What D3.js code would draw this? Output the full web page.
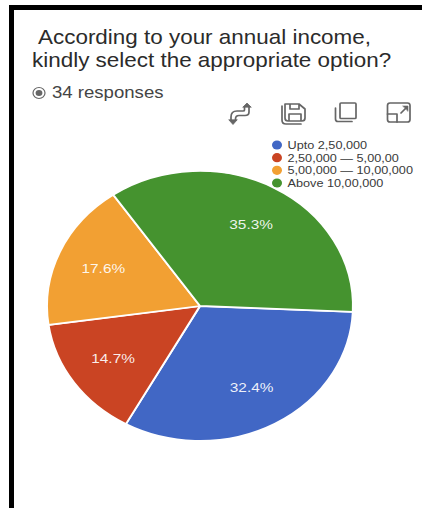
<!DOCTYPE html>
<html>
<head>
<meta charset="utf-8">
<script src="https://cdn.jsdelivr.net/npm/d3@7"></script>
<style>
html,body{margin:0;padding:0;background:#fff;}
svg{display:block;}
text{font-family:"Liberation Sans",Arial,sans-serif;}
</style>
</head>
<body>
<svg id="chart" width="422" height="508"></svg>
<script>
const categories = ["Upto 2,50,000", "2,50,000 — 5,00,00", "5,00,000 — 10,00,000", "Above 10,00,000"];
const responses = [11, 5, 6, 12];
const sliceLabels = ["32.4%", "14.7%", "17.6%", "35.3%"];
const palette = ["#4167c5", "#ca4423", "#f2a033", "#45932f"];
const titleLines = ["According to your annual income,", "kindly select the appropriate option?"];
const responseNote = "34 responses";

const svg = d3.select("#chart");
const ink = "#2b2b2b", iconInk = "#666";

// The whole layout is wider than it is tall by this factor, text included
const stretch = 153 / 135;

function stretchedText(parent, x, y, size, fill, content) {
  return parent.append("text")
    .attr("transform", `translate(${x},${y}) scale(${stretch},1)`)
    .attr("font-size", size).attr("fill", fill).text(content);
}

// Screenshot frame: black band along the top and left edges
svg.append("rect").attr("x", 9).attr("y", 5).attr("width", 413).attr("height", 5).attr("fill", "#000");
svg.append("rect").attr("x", 9).attr("y", 5).attr("width", 5).attr("height", 503).attr("fill", "#000");

// Heading
stretchedText(svg, 38, 44, 19.8, ink, titleLines[0]);
stretchedText(svg, 32, 67, 19.8, ink, titleLines[1]);

// Response count with its radio marker
svg.append("ellipse").attr("cx", 39).attr("cy", 93).attr("rx", 6).attr("ry", 5.5).attr("fill", "none").attr("stroke", "#666").attr("stroke-width", 1.2);
svg.append("ellipse").attr("cx", 39).attr("cy", 93).attr("rx", 3.4).attr("ry", 3).attr("fill", "#666");
stretchedText(svg, 52, 98, 16.4, "#444", responseNote);

// Toolbar icons
const icons = svg.append("g").attr("fill", "none").attr("stroke", iconInk).attr("stroke-width", 1.7)
  .attr("stroke-linejoin", "round").attr("stroke-linecap", "round");
// swap rows and columns
icons.append("path").attr("d", "M244.5 107 V110 Q244.5 111 243 111 H237 Q231 111 231 117 V120");
icons.append("path").attr("d", "M249 107 V112 Q249 115.5 245 115.5 H239 Q235.5 115.5 235.5 119 V120");
icons.append("path").attr("d", "M243 107 L247 103 L251 107 Z M229 120 L233 124.5 L237 120 Z").attr("fill", iconInk).attr("stroke-width", 0.8);
// save
icons.append("path").attr("d", "M285 104 H299 L305 109 V118 Q305 121 302 121 H288 Q285 121 285 118 Z M290 104 V109 H299 V104 M289 121 V114 H301 V121");
icons.append("path").attr("d", "M282 106 V120 Q282 124 286 124 H301");
// copy
icons.append("rect").attr("x", 340).attr("y", 103).attr("width", 16).attr("height", 15.5).attr("rx", 1);
icons.append("path").attr("d", "M335.5 108 V119 Q335.5 121.5 338 121.5 H352");
// expand
icons.append("rect").attr("x", 387.5).attr("y", 103).attr("width", 22.5).attr("height", 19).attr("rx", 2.5);
icons.append("path").attr("d", "M387.5 114 H397 V122");
icons.append("path").attr("d", "M401 113 L406.5 107.5");
icons.append("path").attr("d", "M403 106 H408 V111 Z").attr("fill", iconInk).attr("stroke-width", 0.6);

// Legend
const legend = svg.append("g");
const legendRow = d3.scalePoint().domain(categories).range([145, 183]);
categories.forEach((name, i) => {
  legend.append("ellipse").attr("cx", 277).attr("cy", legendRow(name)).attr("rx", 5).attr("ry", 4.6).attr("fill", palette[i]);
  stretchedText(legend, 287.5, legendRow(name) + 4, 11.2, "#3a3a3a", name);
});

// Pie, squashed vertically along with the rest of the layout
const rx = 153, ry = rx / stretch;
const startAngle = 92.5 * Math.PI / 180;
const pie = d3.pie().sort(null).startAngle(startAngle).endAngle(startAngle + 2 * Math.PI);
const arc = d3.arc().innerRadius(0).outerRadius(rx);
const labelArc = d3.arc().innerRadius(rx * 0.69).outerRadius(rx * 0.69);
const arcs = pie(responses);

const plot = svg.append("g").attr("transform", `translate(200,306) scale(1,${ry / rx})`);
plot.selectAll("path").data(arcs).join("path")
  .attr("d", arc)
  .attr("fill", (d, i) => palette[i])
  .attr("stroke", "#fff").attr("stroke-width", 2);

const sliceText = svg.append("g");
arcs.forEach((d, i) => {
  const [cx, cy] = labelArc.centroid(d);
  stretchedText(sliceText, 200 + cx, 306 + cy * ry / rx + 4.5, 13.6, "#fff", sliceLabels[i])
    .attr("text-anchor", "middle").attr("fill-opacity", 0.92);
});
</script>
</body>
</html>
